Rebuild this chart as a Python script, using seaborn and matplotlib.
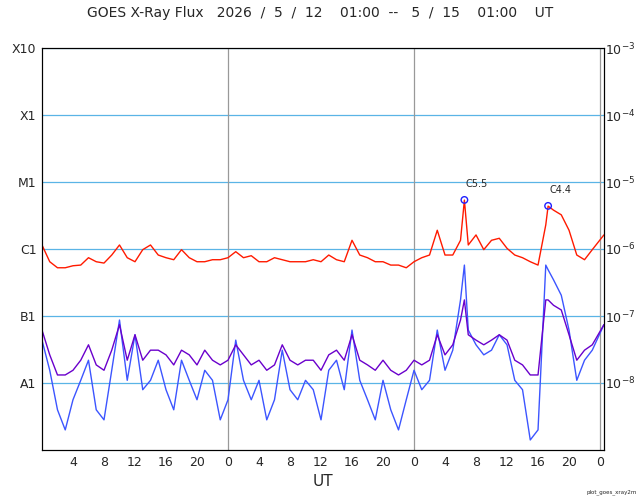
import numpy as np
import pandas as pd
import matplotlib
matplotlib.use("Agg")
import matplotlib.pyplot as plt
import seaborn as sns

# hours since 2026-05-12 00:00 UT
hours = [-1, 0, 1, 2, 3, 4, 5, 6, 7, 8, 9, 10, 11, 12, 13, 14, 15, 16, 17, 18,
         19, 20, 21, 22, 23, 24, 25, 26, 27, 28, 29, 30, 31, 32, 33, 34, 35, 36,
         37, 38, 39, 40, 41, 42, 43, 44, 45, 46, 47, 48, 49, 50, 51, 52, 53, 53.5,
         54, 55, 56, 57, 58, 59, 60, 61, 62, 63, 64, 64.3, 65, 66, 67, 68, 69, 70, 71.5]

# log10 flux (W/m^2)
long_log = [-5.94, -6.19, -6.28, -6.28, -6.25, -6.24, -6.13, -6.19, -6.21, -6.09,
            -5.94, -6.13, -6.19, -6.01, -5.94, -6.09, -6.13, -6.16, -6.01, -6.13,
            -6.19, -6.19, -6.16, -6.16, -6.13, -6.04, -6.13, -6.10, -6.19, -6.19,
            -6.13, -6.16, -6.19, -6.19, -6.19, -6.16, -6.19, -6.09, -6.16, -6.19,
            -5.87, -6.09, -6.13, -6.19, -6.19, -6.24, -6.24, -6.28, -6.19, -6.13,
            -6.09, -5.72, -6.09, -6.09, -5.87, -5.27, -5.94, -5.79, -6.01, -5.87,
            -5.84, -5.99, -6.09, -6.13, -6.19, -6.24, -5.64, -5.36, -5.42, -5.49,
            -5.72, -6.09, -6.16, -6.01, -5.79]
short_log = [-7.36, -7.81, -8.40, -8.70, -8.25, -7.96, -7.66, -8.40, -8.55, -7.81,
             -7.06, -7.96, -7.28, -8.10, -7.96, -7.66, -8.10, -8.40, -7.66, -7.96,
             -8.25, -7.81, -7.96, -8.55, -8.25, -7.36, -7.96, -8.25, -7.96, -8.55,
             -8.25, -7.51, -8.10, -8.25, -7.96, -8.10, -8.55, -7.81, -7.66, -8.10,
             -7.21, -7.96, -8.25, -8.55, -7.96, -8.40, -8.70, -8.25, -7.81, -8.10,
             -7.96, -7.21, -7.81, -7.51, -6.76, -6.24, -7.21, -7.43, -7.58, -7.51,
             -7.28, -7.43, -7.96, -8.10, -8.85, -8.70, -6.24, -6.31, -6.46, -6.69,
             -7.21, -7.96, -7.66, -7.51, -7.13]
mid_log = [-7.21, -7.58, -7.88, -7.88, -7.81, -7.66, -7.43, -7.73, -7.81, -7.51,
           -7.13, -7.66, -7.28, -7.66, -7.51, -7.51, -7.58, -7.73, -7.51, -7.58,
           -7.73, -7.51, -7.66, -7.73, -7.66, -7.43, -7.58, -7.73, -7.66, -7.81,
           -7.73, -7.43, -7.66, -7.73, -7.66, -7.66, -7.81, -7.58, -7.51, -7.66,
           -7.28, -7.66, -7.73, -7.81, -7.66, -7.81, -7.88, -7.81, -7.66, -7.73,
           -7.66, -7.28, -7.58, -7.43, -7.06, -6.76, -7.28, -7.36, -7.43, -7.36,
           -7.28, -7.36, -7.66, -7.73, -7.88, -7.88, -6.76, -6.76, -6.84, -6.91,
           -7.28, -7.66, -7.51, -7.43, -7.13]

flares = ["C5.5", "C4.4"]
flare_hours = [53.5, 64.3]
flare_flux = [5.4e-6, 4.4e-6]

left_labels = ["A1", "B1", "C1", "M1", "X1", "X10"]
hour_labels = ["4", "8", "12", "16", "20", "0", "4", "8", "12", "16", "20", "0",
               "4", "8", "12", "16", "20", "0"]

df = pd.DataFrame({"hour": hours,
                   "long": np.power(10.0, long_log),
                   "short": np.power(10.0, short_log),
                   "mid": np.power(10.0, mid_log)})

sns.set_style("white")
fig = plt.figure(figsize=(6.4, 5.0), dpi=100)
ax = fig.add_axes([0.0656, 0.1, 0.878, 0.804])

ax.set_yscale("log")
ax.set_ylim(1e-9, 1e-3)
ax.set_xlim(-1, 71.5)

for e in range(-8, -2):
    ax.axhline(10.0 ** e, color="#5ab4e6", lw=0.9, zorder=1)
for d in [23, 47, 71]:
    ax.axvline(d, color="#999999", lw=0.9, zorder=1)

sns.lineplot(data=df, x="hour", y="short", color="#3c55ff", lw=1.0, ax=ax)
sns.lineplot(data=df, x="hour", y="mid", color="#6a00cc", lw=1.0, ax=ax)
sns.lineplot(data=df, x="hour", y="long", color="#ff1a00", lw=1.0, ax=ax)

ax.scatter(flare_hours, flare_flux, s=22, facecolors="none", edgecolors="#2020ff", lw=1, zorder=5)
for name, h, f in zip(flares, flare_hours, flare_flux):
    ax.text(h + 0.2, f * 1.45, name, fontsize=7, ha="left", va="bottom")

ax.set_xticks(np.arange(3, 72, 4))
ax.set_xticklabels(hour_labels, fontsize=9)
ax.set_yticks([10.0 ** e for e in range(-8, -2)])
ax.set_yticklabels(left_labels, fontsize=9)
ax.minorticks_off()
ax.tick_params(axis="both", length=0, pad=4)
ax.set_xlabel("UT", fontsize=11)
ax.set_ylabel("")

ax2 = ax.twinx()
ax2.set_yscale("log")
ax2.set_ylim(1e-9, 1e-3)
ax2.set_yticks([10.0 ** e for e in range(-8, -2)])
ax2.set_yticklabels([r"$10^{%d}$" % e for e in range(-8, -2)], fontsize=9)
ax2.minorticks_off()
ax2.tick_params(axis="y", length=0, pad=1)

for a in (ax, ax2):
    for s in a.spines.values():
        s.set_color("black")
        s.set_linewidth(0.8)

fig.text(0.5, 0.975, "GOES X-Ray Flux   2026  /  5  /  12    01:00  --   5  /  15    01:00    UT",
         ha="center", va="center", fontsize=10)
fig.text(0.995, 0.01, "plot_goes_xray2m", ha="right", va="bottom", fontsize=4)

fig.savefig("out.png", dpi=100)
